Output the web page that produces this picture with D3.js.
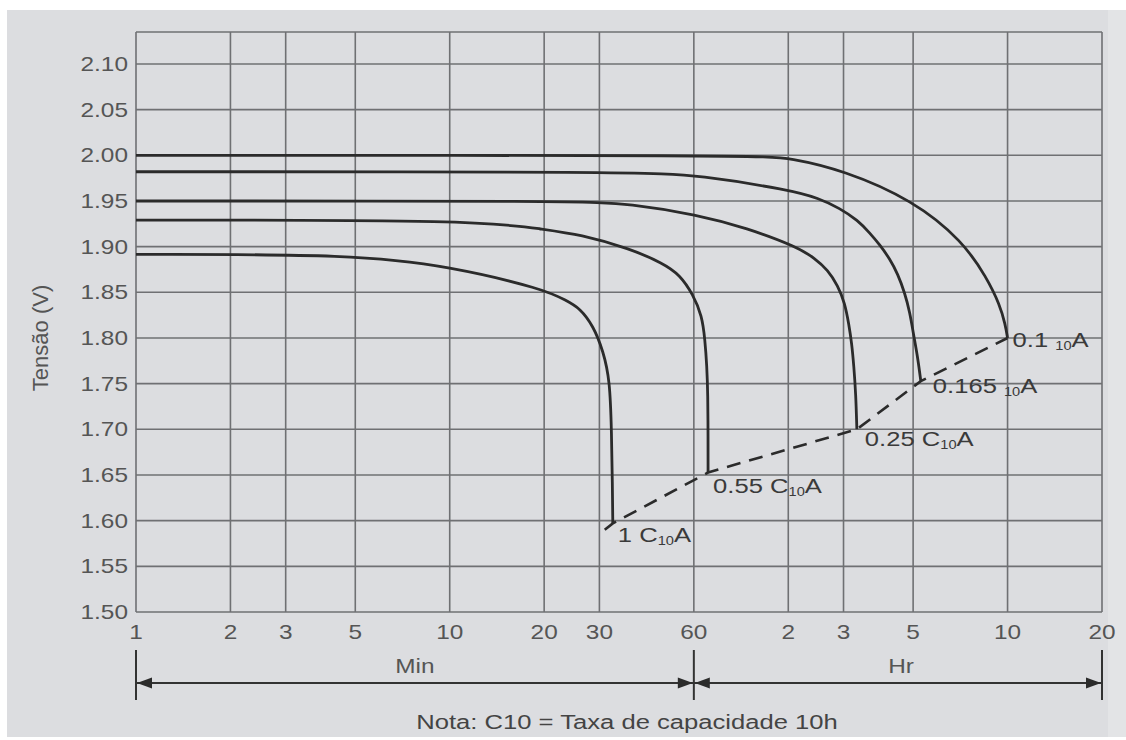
<!DOCTYPE html>
<html>
<head>
<meta charset="utf-8">
<script src="https://cdn.jsdelivr.net/npm/d3@7"></script>
<style>
body { margin: 0; background: #fff; }
svg { display: block; font-family: "Liberation Sans", Arial, sans-serif; }
</style>
</head>
<body>
<div id="chart"></div>
<script>
// discharge curves, [time in minutes, cell voltage]
var curve1C = [[1, 1.8915], [5, 1.8915], [10, 1.8784], [20, 1.8535], [23.6, 1.8407], [26, 1.8326],
    [28.7, 1.8131], [30.85, 1.7856], [32.4, 1.7541], [32.8, 1.6964], [33.0, 1.64], [33.1, 1.597]];
var curve055C = [[1, 1.929], [12.5, 1.929], [20, 1.9188], [26, 1.9134], [37.5, 1.8979], [47.8, 1.8819],
    [54.2, 1.8691], [59.6, 1.8477], [63.7, 1.8244], [65.1, 1.7981], [66.0, 1.7698], [66.5, 1.7385],
    [66.6, 1.69], [66.6, 1.6527]];
var curve025C = [[1, 1.95], [26, 1.95], [37.5, 1.9469], [61.4, 1.935], [88.5, 1.9204], [127.8, 1.90],
    [145.8, 1.8872], [160.4, 1.8745], [172.6, 1.8574], [181.7, 1.8384], [187.2, 1.8151], [191.3, 1.7934],
    [194.1, 1.7698], [197.0, 1.7385], [198.5, 1.70]];
var curve0165C = [[1, 1.982], [40.4, 1.982], [62.7, 1.978], [121.4, 1.962], [150, 1.953], [175.2, 1.942],
    [199.9, 1.9288], [218.3, 1.9149], [234.9, 1.9020], [252.8, 1.8866], [268.1, 1.8700], [282.2, 1.8492],
    [292.7, 1.8285], [301.5, 1.8022], [310.5, 1.7781], [317.4, 1.7528]];
var curve01C = [[1, 2.00], [97.4, 2.00], [121.4, 1.997], [179.1, 1.984], [299.4, 1.951], [431.9, 1.906],
    [515.1, 1.866], [566.7, 1.8364], [590, 1.815], [600, 1.80]];

var curves = [curve1C, curve055C, curve025C, curve0165C, curve01C];
var curveLabels = [
    ["1 C", "10", "A"],
    ["0.55 C", "10", "A"],
    ["0.25 C", "10", "A"],
    ["0.165 ", "10", "A"],
    ["0.1 ", "10", "A"]
];
// the dashed end-voltage line starts a little before the 1C end
var dashStart = [31.2, 1.590];

var xTicks = [1, 2, 3, 5, 10, 20, 30, 60, 120, 180, 300, 600, 1200];
var xTickLabels = ["1", "2", "3", "5", "10", "20", "30", "60", "2", "3", "5", "10", "20"];
var yTicks = [1.50, 1.55, 1.60, 1.65, 1.70, 1.75, 1.80, 1.85, 1.90, 1.95, 2.00, 2.05, 2.10];
var yTickLabels = ["1.50", "1.55", "1.60", "1.65", "1.70", "1.75", "1.80", "1.85", "1.90", "1.95", "2.00", "2.05", "2.10"];
var yTop = 2.135;

var svgWidth = 1126, svgHeight = 740;
var margin = { top: 32, right: 24, bottom: 128, left: 136 };
var width = svgWidth - margin.left - margin.right;
var height = svgHeight - margin.top - margin.bottom;
var stretch = 1.22;

var svg = d3.select("#chart").append("svg")
    .attr("width", svgWidth)
    .attr("height", svgHeight);

// panel background
svg.append("rect").attr("x", 7).attr("y", 10).attr("width", svgWidth - 7).attr("height", 727).attr("fill", "#dcdde0");
svg.append("rect").attr("x", 1108).attr("y", 10).attr("width", 18).attr("height", 727).attr("fill", "#e3e4e6");

var chartGroup = svg.append("g")
    .attr("transform", `translate(${margin.left}, ${margin.top})`);

var xScale = d3.scaleLog().domain([1, 1200]).range([0, width]);
var yScale = d3.scaleLinear().domain([1.5, yTop]).range([height, 0]);

// grid
var gridColor = "#6f7073";
chartGroup.selectAll(".vgrid").data(xTicks).enter().append("line")
    .attr("x1", d => xScale(d)).attr("x2", d => xScale(d))
    .attr("y1", 0).attr("y2", height)
    .attr("stroke", gridColor).attr("stroke-width", 1.6);
chartGroup.selectAll(".hgrid").data(yTicks.concat([yTop])).enter().append("line")
    .attr("x1", 0).attr("x2", width)
    .attr("y1", d => yScale(d)).attr("y2", d => yScale(d))
    .attr("stroke", gridColor).attr("stroke-width", 1.6);

// stretched text helper
function label(g, x, y, txt, anchor, size, color) {
    return g.append("text")
        .attr("transform", `translate(${x}, ${y}) scale(${stretch}, 1)`)
        .attr("text-anchor", anchor)
        .style("font-size", size + "px")
        .attr("fill", color)
        .text(txt);
}

xTicks.forEach((d, i) => label(chartGroup, xScale(d), height + 27, xTickLabels[i], "middle", 20, "#555"));
yTicks.forEach((d, i) => label(chartGroup, -8, yScale(d) + 7, yTickLabels[i], "end", 20, "#555"));

chartGroup.append("text")
    .attr("transform", `translate(${-88}, ${yScale(1.8)}) rotate(-90)`)
    .attr("text-anchor", "middle")
    .style("font-size", "22px")
    .attr("fill", "#555")
    .text("Tensão (V)");

// curves
var line = d3.line()
    .x(d => xScale(d[0]))
    .y(d => yScale(d[1]))
    .curve(d3.curveBasis);

chartGroup.selectAll(".curve").data(curves).enter().append("path")
    .attr("d", line)
    .attr("fill", "none")
    .attr("stroke", "#2b2b2b")
    .attr("stroke-width", 2.8)
    .attr("stroke-linejoin", "round");

var ends = curves.map(c => c[c.length - 1]);
chartGroup.append("path")
    .attr("d", d3.line().x(d => xScale(d[0])).y(d => yScale(d[1]))([dashStart].concat(ends)))
    .attr("fill", "none")
    .attr("stroke", "#2b2b2b")
    .attr("stroke-width", 2.6)
    .attr("stroke-dasharray", "14,9");

// curve labels, offsets from the curve end
var labelOffsets = [[5, 19], [5, 20], [8, 17], [12, 12], [5, 9]];
ends.forEach((e, i) => {
    var t = label(chartGroup, xScale(e[0]) + labelOffsets[i][0], yScale(e[1]) + labelOffsets[i][1], "", "start", 21, "#3a3a3a");
    t.append("tspan").text(curveLabels[i][0]);
    t.append("tspan").style("font-size", "12px").attr("dy", 3).text(curveLabels[i][1]);
    t.append("tspan").attr("dy", -3).text(curveLabels[i][2]);
});

// min / hr range arrows
var arrowY = height + 71;
var bounds = [1, 60, 1200];
bounds.forEach(b => {
    chartGroup.append("line")
        .attr("x1", xScale(b)).attr("x2", xScale(b))
        .attr("y1", height + 38).attr("y2", height + 88)
        .attr("stroke", "#333").attr("stroke-width", 2);
});
chartGroup.append("line")
    .attr("x1", xScale(1)).attr("x2", xScale(1200))
    .attr("y1", arrowY).attr("y2", arrowY)
    .attr("stroke", "#333").attr("stroke-width", 1.8);

function arrowHead(x, dir) {
    chartGroup.append("path")
        .attr("d", `M${x},${arrowY} L${x - dir * 15},${arrowY - 5.5} L${x - dir * 15},${arrowY + 5.5} Z`)
        .attr("fill", "#2b2b2b");
}
arrowHead(xScale(1) + 1, -1);
arrowHead(xScale(60) - 1, 1);
arrowHead(xScale(60) + 1, -1);
arrowHead(xScale(1200) - 1, 1);

label(chartGroup, (xScale(1) + xScale(60)) / 2, height + 61, "Min", "middle", 20, "#555");
label(chartGroup, xScale(300) - 12, height + 61, "Hr", "middle", 20, "#555");

label(svg, 627, 729, "Nota: C10 = Taxa de capacidade 10h", "middle", 21, "#444");
</script>
</body>
</html>
